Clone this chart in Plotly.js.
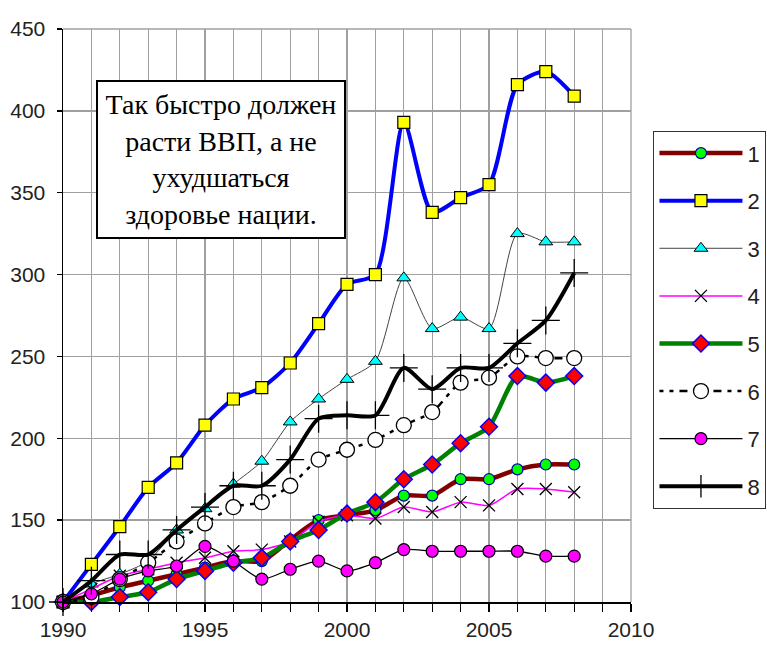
<!DOCTYPE html>
<html>
<head>
<meta charset="utf-8">
<script src="https://cdn.plot.ly/plotly-3.0.1.min.js"></script>
<style>html,body{margin:0;padding:0;background:#fff;}#chart{width:767px;height:648px;}</style>
</head>
<body>
<div id="chart"></div>
<script>
// Years
var years = [1990,1991,1992,1993,1994,1995,1996,1997,1998,1999,2000,2001,2002,2003,2004,2005,2006,2007,2008];

// Series values (index, 1990 = 100)
var s1 = [100,104,109,113,117,121,125,125,138,150,153,156,165,165,175,175,181,184,184];
var s2 = [100,123,146,170,185,208,224,231,246,270,294,300,393,338,347,355,416,424,409];
var s3 = [100,111,117,125,144,157,172,186,210,224,236,247,298,267,274,267,325,320,320];
var s4 = [100,108,116,120,124,127,131,132,137,149,153,151,158,155,161,159,169,169,167];
var s5 = [100,100,103,106,114,119,124,127,137,144,154,161,175,184,197,207,238,234,238];
var s6 = [100,103,114,124,137,148,158,161,171,187,193,199,208,216,234,237,250,249,249];
var s7 = [100,105,114,119,122,134,125,114,120,125,119,124,132,131,131,131,131,128,128];
var s8 = [100,113,129,129,144,158,171,171,187,212,214,214,243,230,243,243,258,272,301];

var seriesNames = ["1","2","3","4","5","6","7","8"];
var yTickVals = [100,150,200,250,300,350,400,450];
var noteText = "Так быстро должен<br>расти ВВП, а не<br>ухудшаться<br>здоровье нации.";

function tr(y, name, line, marker) {
  return {
    x: years, y: y, name: name, type: "scatter", mode: "lines+markers",
    line: line, marker: marker, cliponaxis: false, legendgroup: "g" + name
  };
}

var data = [
  tr(s1, seriesNames[0], {color:"#800000", width:4.5, shape:"spline", smoothing:0.7},
     {symbol:"circle", size:11, color:"#00ff00", line:{color:"#0000aa", width:1.2}}),
  tr(s2, seriesNames[1], {color:"#0000ff", width:4, shape:"spline", smoothing:0.7},
     {symbol:"square", size:12, color:"#ffff00", line:{color:"#000000", width:1.2}}),
  tr(s3, seriesNames[2], {color:"#444444", width:1, shape:"spline", smoothing:0.7},
     {symbol:"triangle-up", size:12, color:"#00ffff", line:{color:"#000000", width:1}}),
  tr(s4, seriesNames[3], {color:"#ff00ff", width:1.5, shape:"spline", smoothing:0.7},
     {symbol:"x-thin-open", size:12, color:"#000000", line:{color:"#000000", width:1.3}}),
  tr(s5, seriesNames[4], {color:"#008000", width:4.5, shape:"spline", smoothing:0.7},
     {symbol:"diamond", size:13, color:"#ff0000", line:{color:"#0000ff", width:1.5}}),
  tr(s6, seriesNames[5], {color:"#000000", width:2.5, dash:"4px,6px,4px,6px,8px,6px", shape:"spline", smoothing:0.7},
     {symbol:"circle", size:15, color:"#ffffff", line:{color:"#000000", width:1.3}}),
  tr(s7, seriesNames[6], {color:"#000000", width:1.3, shape:"spline", smoothing:0.7},
     {symbol:"circle", size:12, color:"#ff00ff", line:{color:"#000000", width:1.2}}),
  tr(s8, seriesNames[7], {color:"#000000", width:4, shape:"spline", smoothing:0.7},
     {symbol:"cross-thin-open", size:20, color:"#000000", line:{color:"#000000", width:1.3}})
];

var layout = {
  width: 767, height: 648,
  paper_bgcolor: "#ffffff", plot_bgcolor: "#ffffff",
  margin: {l:63, r:136, t:29, b:46, autoexpand:false},
  font: {family:"Liberation Sans, Arial, sans-serif", size:21, color:"#222222"},
  xaxis: {
    range: [1990, 2010], dtick: 1, tick0: 1990, ticklabelstep: 5,
    showgrid: true, gridcolor: "#a0a0a0", gridwidth: 1.3,
    showline: true, linecolor: "#000000", linewidth: 1.5,
    ticks: "outside", ticklen: 8, tickcolor: "#000000", tickwidth: 1.3,
    tickfont: {size:21, color:"#222222"}, zeroline: false, fixedrange: true
  },
  yaxis: {
    range: [100, 450], tickvals: yTickVals,
    showgrid: true, gridcolor: "#a0a0a0", gridwidth: 1.3,
    showline: true, linecolor: "#000000", linewidth: 1.5,
    ticks: "outside", ticklen: 5, tickcolor: "#000000", tickwidth: 1.3,
    ticklabelstandoff: 7,
    tickfont: {size:21, color:"#222222"}, zeroline: false, fixedrange: true
  },
  shapes: [
    {type:"line", xref:"paper", yref:"paper", x0:1, x1:1, y0:0, y1:1, line:{color:"#a0a0a0", width:1.3}},
    {type:"line", xref:"paper", yref:"paper", x0:0, x1:1, y0:1, y1:1, line:{color:"#a0a0a0", width:1.3}}
  ],
  showlegend: true,
  legend: {
    x: 1.039, xanchor: "left", y: 0.822, yanchor: "top",
    bordercolor: "#333333", borderwidth: 1.3, bgcolor: "#ffffff",
    font: {size:22, color:"#222222"}, itemwidth: 83, tracegroupgap: 16,
    traceorder: "grouped"
  },
  annotations: [{
    xref: "paper", yref: "paper", x: 0.278, y: 0.772, xanchor: "center", yanchor: "middle",
    text: noteText, showarrow: false, align: "center",
    font: {family:"Liberation Serif, Times New Roman, serif", size:28, color:"#000000"},
    bgcolor: "#ffffff", bordercolor: "#000000", borderwidth: 2, borderpad: 4,
    width: 238, height: 147
  }]
};

Plotly.newPlot("chart", data, layout, {staticPlot: true, displayModeBar: false});
</script>
</body>
</html>
